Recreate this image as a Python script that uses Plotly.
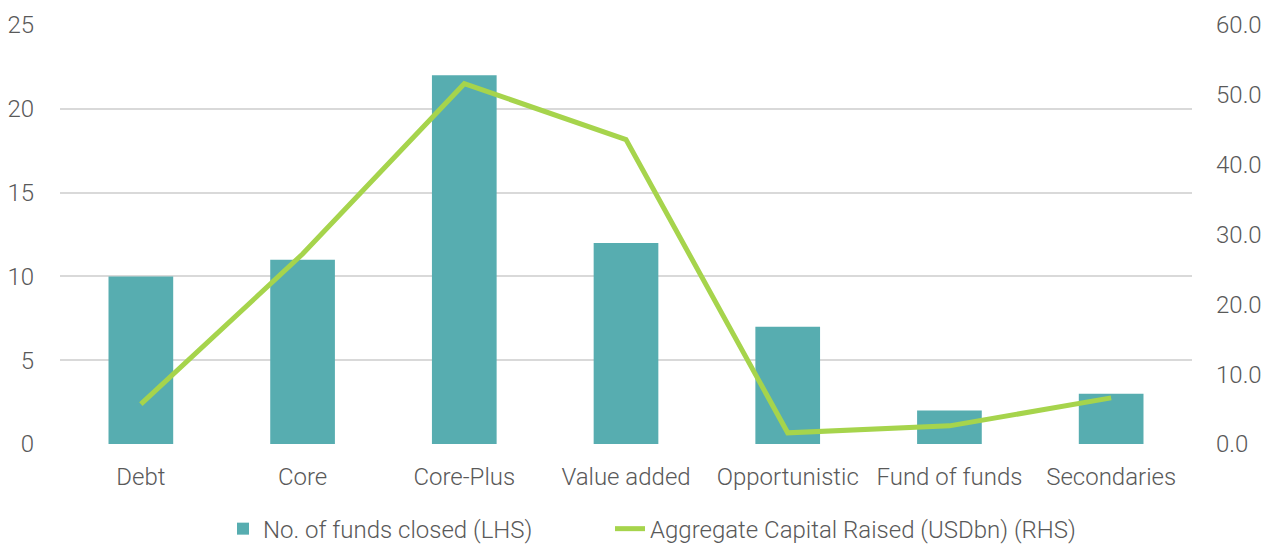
import plotly.graph_objects as go

categories = ["Debt", "Core", "Core-Plus", "Value added", "Opportunistic", "Fund of funds", "Secondaries"]
funds_closed = [10, 11, 22, 12, 7, 2, 3]
capital_raised = [5.7, 27.2, 51.6, 43.6, 1.6, 2.6, 6.6]
left_ticks = [0, 5, 10, 15, 20, 25]
right_ticks = [0, 10, 20, 30, 40, 50, 60]

BAR = "#57ADB0"
LINE = "#A6D44C"
TXT = "#595959"
FONT = "Roboto"
FS = 24

W, H = 1266, 544

fig = go.Figure()
fig.add_trace(go.Bar(
    x=categories, y=funds_closed, name="No. of funds closed (LHS)",
    marker=dict(color=BAR, line=dict(width=0)), width=0.4, yaxis="y",
    legend="legend",
))
fig.add_trace(go.Scatter(
    x=categories, y=capital_raised, name="Aggregate Capital Raised (USDbn) (RHS)",
    mode="lines", line=dict(color=LINE, width=5), yaxis="y2",
    legend="legend2",
))

leg_common = dict(orientation="h", xref="container", xanchor="left",
                  y=-0.203, yanchor="middle", bgcolor="rgba(0,0,0,0)",
                  font=dict(size=FS, color=TXT, family=FONT, weight=300))

fig.update_layout(
    width=W, height=H,
    margin=dict(l=60, r=74, t=25, b=100, autoexpand=False),
    paper_bgcolor="white", plot_bgcolor="white",
    font=dict(family=FONT, size=FS, color=TXT, weight=300),
    showlegend=True,
    legend=dict(x=223 / W, **leg_common),
    legend2=dict(x=610 / W, **leg_common),
    xaxis=dict(showgrid=False, showline=False, zeroline=False, ticks="",
               ticklabelstandoff=16, tickfont=dict(size=FS, color=TXT)),
    yaxis=dict(range=[0, 25], tickvals=left_ticks, showgrid=True, gridcolor="#D9D9D9",
               gridwidth=1.5, zeroline=False, showline=False, ticks="",
               ticklabelstandoff=25, tickfont=dict(size=FS, color=TXT)),
    yaxis2=dict(range=[0, 60], tickvals=right_ticks, tickformat=".1f", overlaying="y",
                side="right", showgrid=False, zeroline=False, showline=False, ticks="",
                ticklabelstandoff=23, tickfont=dict(size=FS, color=TXT)),
    bargap=0.6,
)

fig.write_html("out.html", config={"displayModeBar": False},
               post_script="document.body.style.margin='0';document.body.style.overflow='hidden';")
